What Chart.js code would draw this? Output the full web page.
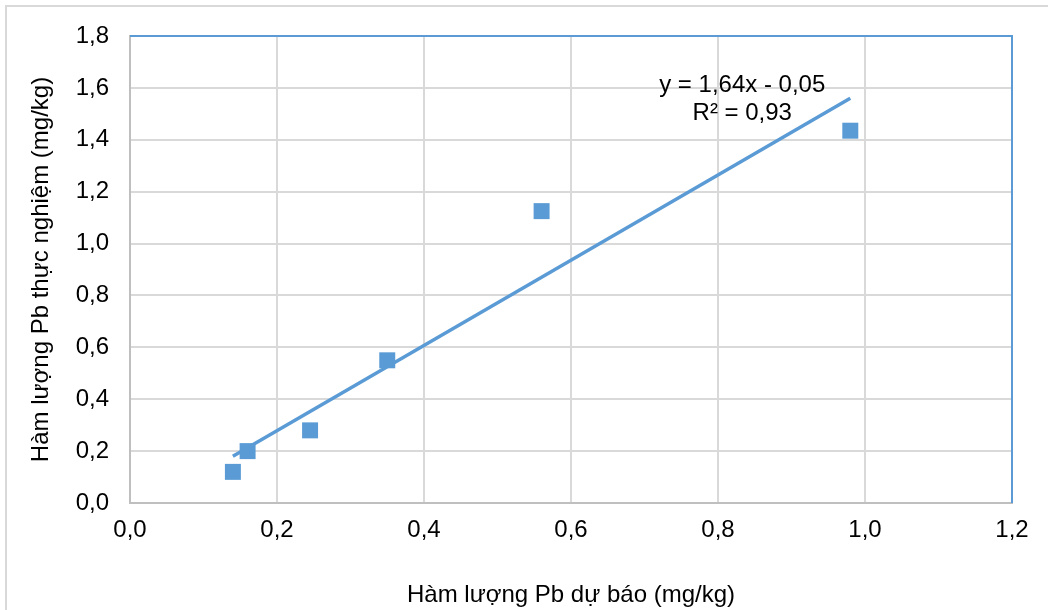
<!DOCTYPE html>
<html>
<head>
<meta charset="utf-8">
<script src="https://cdn.jsdelivr.net/npm/chart.js@4"></script>
<style>
  html, body { margin: 0; padding: 0; background: #fff; }
  #wrap { width: 1048px; height: 610px; }
</style>
</head>
<body>
<div id="wrap"><canvas id="chart" width="1048" height="610"></canvas></div>
<script>
// measured points
const predicted = [0.14, 0.16, 0.245, 0.35, 0.56, 0.98];
const measured = [0.12, 0.20, 0.28, 0.55, 1.125, 1.435];

// linear trendline ends
const trendX = [0.14, 0.98];
const trendY = [0.18, 1.56];

const xTickLabels = ["0,0", "0,2", "0,4", "0,6", "0,8", "1,0", "1,2"];
const yTickLabels = ["0,0", "0,2", "0,4", "0,6", "0,8", "1,0", "1,2", "1,4", "1,6", "1,8"];

const eqLines = ["y = 1,64x - 0,05", "R² = 0,93"];

const blue = "#5b9bd5";
const font = "'Liberation Sans', Arial, sans-serif";
const fs = 24;

// outer frame, plot border and the trendline label
const decor = {
  id: "decor",
  beforeDraw(chart) {
    const ctx = chart.ctx;
    ctx.save();
    ctx.strokeStyle = "#d9d9d9";
    ctx.lineWidth = 2;
    ctx.strokeRect(6, 6, 1060, 620);
    ctx.restore();
  },
  afterDatasetsDraw(chart) {
    const ctx = chart.ctx;
    const a = chart.chartArea;
    ctx.save();
    ctx.strokeStyle = blue;
    ctx.lineWidth = 2;
    ctx.beginPath();
    ctx.moveTo(a.left, a.top);
    ctx.lineTo(a.right, a.top);
    ctx.lineTo(a.right, a.bottom);
    ctx.stroke();

    const sx = chart.scales.x, sy = chart.scales.y;
    ctx.fillStyle = "#000";
    ctx.font = fs + "px " + font;
    ctx.textAlign = "center";
    ctx.textBaseline = "middle";
    const cx = sx.getPixelForValue(0.833);
    ctx.fillText(eqLines[0], cx, sy.getPixelForValue(1.61));
    ctx.fillText(eqLines[1], cx, sy.getPixelForValue(1.503));
    ctx.restore();
  }
};

new Chart(document.getElementById("chart"), {
  type: "scatter",
  data: {
    datasets: [
      {
        label: "Trendline",
        type: "line",
        data: trendX.map((x, i) => ({ x, y: trendY[i] })),
        borderColor: blue,
        borderWidth: 3.5,
        pointRadius: 0,
        fill: false,
        order: 2
      },
      {
        label: "Pb",
        data: predicted.map((x, i) => ({ x, y: measured[i] })),
        pointStyle: "rect",
        pointRadius: 11.3,
        pointHoverRadius: 11.3,
        backgroundColor: blue,
        borderColor: blue,
        borderWidth: 0,
        order: 1
      }
    ]
  },
  options: {
    responsive: false,
    animation: false,
    layout: { padding: { top: 36, right: 36, left: 0, bottom: 0 } },
    plugins: {
      legend: { display: false },
      tooltip: { enabled: false }
    },
    scales: {
      x: {
        type: "linear",
        min: 0,
        max: 1.2,
        afterFit(s) { s.height = 107; },
        ticks: {
          stepSize: 0.2,
          padding: 13,
          color: "#000",
          font: { family: font, size: fs },
          callback: (v, i) => xTickLabels[i]
        },
        grid: { color: "#d9d9d9", lineWidth: 2, drawTicks: false },
        border: { color: "#bfbfbf", width: 2 },
        title: {
          display: true,
          text: "Hàm lượng Pb dự báo (mg/kg)",
          color: "#000",
          font: { family: font, size: fs },
          padding: { top: 0, bottom: 0 }
        }
      },
      y: {
        type: "linear",
        min: 0,
        max: 1.8,
        afterFit(s) { s.width = 130; },
        ticks: {
          stepSize: 0.2,
          padding: 21,
          color: "#000",
          font: { family: font, size: fs },
          callback: (v, i) => yTickLabels[i]
        },
        grid: { color: "#d9d9d9", lineWidth: 2, drawTicks: false },
        border: { color: "#bfbfbf", width: 2 },
        title: {
          display: true,
          text: "Hàm lượng Pb thực nghiệm (mg/kg)",
          color: "#000",
          font: { family: font, size: fs },
          padding: { top: 27, bottom: 0 }
        }
      }
    }
  },
  plugins: [decor]
});
</script>
</body>
</html>
